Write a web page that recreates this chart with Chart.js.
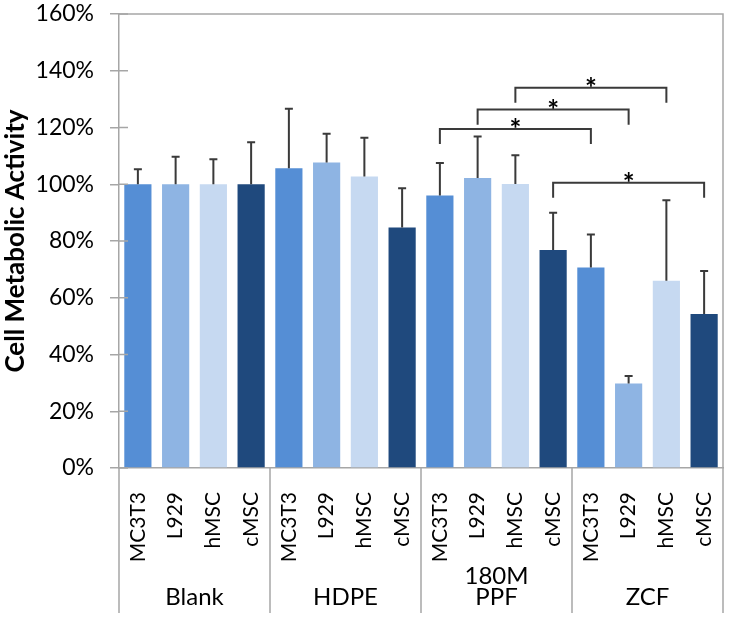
<!DOCTYPE html>
<html>
<head>
<meta charset="utf-8">
<script src="https://cdn.jsdelivr.net/npm/chart.js@4"></script>
<style>
  html, body { margin: 0; padding: 0; background: #fff; }
  #wrap { width: 729px; height: 619px; }
</style>
</head>
<body>
<div id="wrap"><canvas id="myChart" width="729" height="619"></canvas></div>
<script>
// data
const groups = ['Blank', 'HDPE', ['180M', 'PPF'], 'ZCF'];
const cells = ['MC3T3', 'L929', 'hMSC', 'cMSC'];
const cellColors = ['#558ED5', '#8EB4E3', '#C6D9F1', '#1F497D'];
const activity = [100, 100, 100, 100, 105.6, 107.7, 102.7, 84.8, 96.0, 102.2, 100.1, 76.8, 70.7, 29.8, 66.0, 54.3];
const errors = [5.3, 9.7, 8.8, 14.8, 21.0, 10.1, 13.7, 13.8, 11.5, 14.6, 10.1, 13.2, 11.6, 2.6, 28.4, 15.1];
const yTicks = [0, 20, 40, 60, 80, 100, 120, 140, 160];

// significance brackets (bar index from / to, height of the bracket)
const sigFrom = [8, 9, 10, 11];
const sigTo = [12, 13, 14, 15];
const sigLevel = [119.5, 126.3, 134.0, 100.5];
const sigLeg = 5.3;

const labels = [];
const colors = [];
groups.forEach(() => cells.forEach((c, i) => { labels.push(c); colors.push(cellColors[i]); }));

const FONT = 'Lato, "DejaVu Sans", sans-serif';
const INK = '#3a3a3a';
const AXIS = '#a6a6a6';

const extras = {
  id: 'extras',
  afterDatasetsDraw(chart) {
    const ctx = chart.ctx, x = chart.scales.x, y = chart.scales.y;
    ctx.save();
    ctx.strokeStyle = INK;
    ctx.lineWidth = 2;
    activity.forEach((v, i) => {
      const px = x.getPixelForValue(i);
      const y0 = y.getPixelForValue(v), y1 = y.getPixelForValue(v + errors[i]);
      ctx.beginPath();
      ctx.moveTo(px, y0); ctx.lineTo(px, y1);
      ctx.moveTo(px - 4, y1); ctx.lineTo(px + 4, y1);
      ctx.stroke();
    });
    ctx.restore();
  },
  afterDraw(chart) {
    const ctx = chart.ctx, x = chart.scales.x, y = chart.scales.y, a = chart.chartArea;
    ctx.save();
    // frame top and right
    ctx.strokeStyle = AXIS;
    ctx.lineWidth = 1.5;
    ctx.beginPath();
    ctx.moveTo(a.left, a.top); ctx.lineTo(a.right, a.top); ctx.lineTo(a.right, a.bottom);
    ctx.stroke();
    // inner half of y tick marks
    yTicks.forEach(t => {
      const py = y.getPixelForValue(t);
      ctx.beginPath(); ctx.moveTo(a.left, py); ctx.lineTo(a.left + 9, py); ctx.stroke();
    });
    // group separators
    for (let g = 0; g <= groups.length; g++) {
      const px = x.getPixelForValue(g * cells.length - 0.5);
      ctx.beginPath(); ctx.moveTo(px, a.bottom); ctx.lineTo(px, a.bottom + 145); ctx.stroke();
    }
    // group labels
    ctx.fillStyle = '#000';
    ctx.font = '24px ' + FONT;
    ctx.textAlign = 'center';
    ctx.textBaseline = 'middle';
    groups.forEach((g, k) => {
      const px = x.getPixelForValue(k * cells.length + 1.5);
      const lines = Array.isArray(g) ? g : [g];
      lines.forEach((s, j) => {
        ctx.fillText(s, px, a.bottom + 129 - (lines.length - 1 - j) * 21);
      });
    });
    // significance brackets
    ctx.strokeStyle = INK;
    ctx.lineWidth = 2;
    ctx.font = 'bold 28px ' + FONT;
    ctx.textBaseline = 'alphabetic';
    sigFrom.forEach((f, k) => {
      const x0 = x.getPixelForValue(f), x1 = x.getPixelForValue(sigTo[k]);
      const yt = y.getPixelForValue(sigLevel[k]), yb = y.getPixelForValue(sigLevel[k] - sigLeg);
      ctx.beginPath();
      ctx.moveTo(x0, yb); ctx.lineTo(x0, yt); ctx.lineTo(x1, yt); ctx.lineTo(x1, yb);
      ctx.stroke();
      ctx.fillText('*', (x0 + x1) / 2, yt + 10);
    });
    ctx.restore();
  }
};

new Chart(document.getElementById('myChart').getContext('2d'), {
  type: 'bar',
  data: {
    labels: labels,
    datasets: [{
      data: activity,
      backgroundColor: colors,
      borderWidth: 0,
      barPercentage: 0.72,
      categoryPercentage: 1
    }]
  },
  options: {
    responsive: false,
    animation: false,
    layout: { padding: { top: 14, right: 6, left: 0, bottom: 0 } },
    plugins: { legend: { display: false }, tooltip: { enabled: false } },
    scales: {
      x: {
        grid: { display: false },
        border: { color: AXIS, width: 1.5 },
        ticks: { color: '#000', font: { family: FONT, size: 21 }, minRotation: 90, maxRotation: 90, padding: 16, autoSkip: false },
        afterFit(scale) { scale.height = 151; scale.paddingLeft = 0; scale.paddingRight = 0; }
      },
      y: {
        min: 0, max: 160,
        afterBuildTicks(scale) { scale.ticks = yTicks.map(v => ({ value: v })); },
        grid: { drawOnChartArea: false, tickLength: 9, color: AXIS, lineWidth: 1.5 },
        border: { color: AXIS, width: 1.5 },
        ticks: { color: '#000', font: { family: FONT, size: 23 }, padding: 16, callback: v => v + '%' },
        title: { display: true, text: 'Cell Metabolic Activity', color: '#000', font: { family: FONT, size: 26, weight: 'bold' }, padding: 0 },
        afterFit(scale) { scale.width = 119; scale.paddingTop = 0; scale.paddingBottom = 0; }
      }
    }
  },
  plugins: [extras]
});
</script>
</body>
</html>
